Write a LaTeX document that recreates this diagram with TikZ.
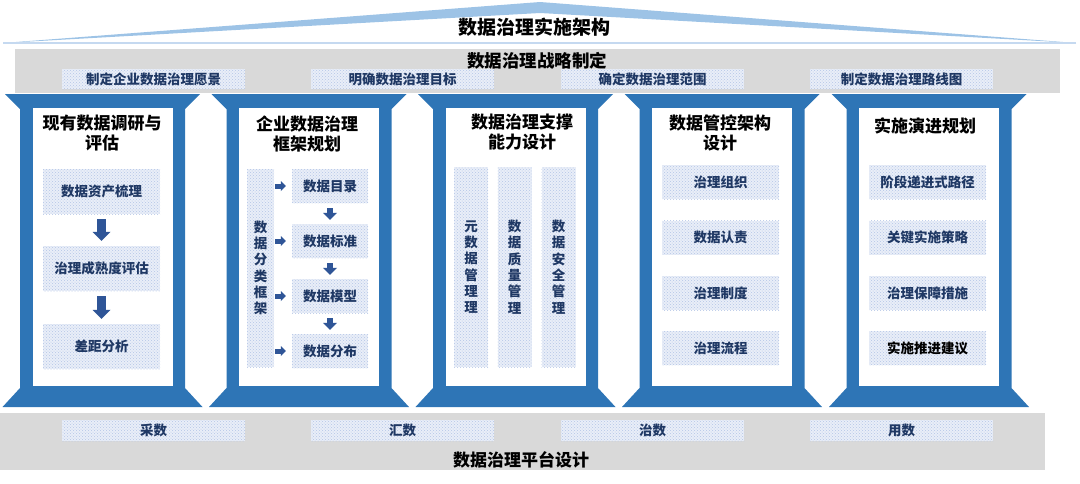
\documentclass[tikz,border=0pt]{standalone}
\usepackage{fontspec}
\setmainfont{Noto Sans CJK SC}
\usepackage{xcolor}
\usepackage{tikz}
\usetikzlibrary{positioning, arrows.meta, patterns}

\definecolor{pillarblue}{HTML}{2E75B6}
\definecolor{roofblue}{HTML}{9DC3E6}
\definecolor{roofline}{HTML}{C5D9F0}
\definecolor{bandgray}{HTML}{D9D9D9}
\definecolor{boxbg}{HTML}{E9EEF8}
\definecolor{boxdot}{HTML}{B4C5E6}
\definecolor{navy}{HTML}{1F3864}
\definecolor{arrowblue}{HTML}{2F5597}

\begin{document}
\begin{tikzpicture}[
    x=1pt, y=-1pt,
    maintitle/.style={font=\fontsize{19}{22}\selectfont\bfseries, inner sep=0pt},
    bandtitle/.style={font=\fontsize{17.5}{20}\selectfont\bfseries, inner sep=0pt},
    colhead/.style={font=\fontsize{17}{20}\selectfont\bfseries, align=center, inner sep=0pt},
    dotbox/.style={rectangle, inner sep=0pt, fill=boxbg, postaction={pattern=crosshatch dots, pattern color=boxdot},
        text=navy, font=\fontsize{13.5}{16.3}\selectfont\bfseries, align=center},
    wideitem/.style={dotbox, minimum width=117pt, minimum height=34pt},
    bandbox/.style={dotbox, minimum width=183pt, minimum height=20pt},
    bigarrow/.style={draw=arrowblue, line width=9pt, -{Triangle[width=18pt, length=9pt, line width=0pt]}, shorten <=5pt, shorten >=5pt},
    downarrow/.style={draw=arrowblue, line width=6pt, -{Triangle[width=14pt, length=7pt, line width=0pt]}, shorten <=5pt, shorten >=4pt},
    rightarrow/.style={draw=arrowblue, line width=5pt, -{Triangle[width=10pt, length=5pt, line width=0pt]}, shorten <=1pt, shorten >=6pt}
]
    \useasboundingbox (0,0) rectangle (1080,483);

    % Roof
    \fill[roofblue] (3,43) -- (540,2) -- (1076,43) -- (540,13) -- cycle;
    \draw[roofline, line width=1.2pt] (3,43) -- (1076,43);
    \node[maintitle] (title) at (534,27) {数据治理实施架构};

    % Strategy band
    \fill[bandgray] (15,49) rectangle (1060,93);
    \node[bandtitle] (strategy) at (537,61) {数据治理战略制定};
    \node[bandbox] (s1) at (153.5,79) {制定企业数据治理愿景};
    \node[bandbox] (s2) at (402.5,79) {明确数据治理目标};
    \node[bandbox] (s3) at (652.5,79) {确定数据治理范围};
    \node[bandbox] (s4) at (901.5,79) {制定数据治理路线图};

    % Pillars
    \foreach \cx in {102.5, 309, 515.5, 722, 929} {
        \fill[pillarblue] ({\cx-97.5},94) -- ({\cx+97.5},94) -- ({\cx+82.5},109) -- ({\cx+82.5},388)
            -- ({\cx+100},407) -- ({\cx-100},407) -- ({\cx-82.5},388) -- ({\cx-82.5},109) -- cycle;
        \fill[white] ({\cx-70},108) rectangle ({\cx+70},386);
    }

    % Platform band
    \fill[bandgray] (0,413) rectangle (1045,470);
    \node[bandbox, minimum height=21pt] (u1) at (153.5,430.5) {采数};
    \node[bandbox, minimum height=21pt] (u2) at (402.5,430.5) {汇数};
    \node[bandbox, minimum height=21pt] (u3) at (652.5,430.5) {治数};
    \node[bandbox, minimum height=21pt] (u4) at (901.5,430.5) {用数};
    \node[bandtitle, font=\fontsize{17}{20}\selectfont\bfseries] (platform) at (521,460) {数据治理平台设计};

    % Column 1
    \node[colhead] (t1) at (102,133.5) {现有数据调研与\\评估};
    \node[wideitem, minimum height=45pt] (a1) at (101.5,191.5) {数据资产梳理};
    \node[wideitem, minimum height=45pt] (a2) at (101.5,268.5) {治理成熟度评估};
    \node[wideitem, minimum height=45pt] (a3) at (101.5,346.5) {差距分析};
    \draw[bigarrow] (a1) -- (a2);
    \draw[bigarrow] (a2) -- (a3);

    % Column 2
    \node[colhead] (t2) at (307,133.5) {企业数据治理\\框架规划};
    \node[dotbox, minimum width=27pt, minimum height=198pt] (k0) at (260.5,268) {数\\据\\分\\类\\框\\架};
    \node[dotbox, minimum width=76pt, minimum height=34pt] (k1) at (330,186) {数据目录};
    \node[dotbox, minimum width=76pt, minimum height=34pt] (k2) at (330,241) {数据标准};
    \node[dotbox, minimum width=76pt, minimum height=34pt] (k3) at (330,296) {数据模型};
    \node[dotbox, minimum width=76pt, minimum height=34pt] (k4) at (330,351) {数据分布};
    \draw[downarrow] (k1) -- (k2);
    \draw[downarrow] (k2) -- (k3);
    \draw[downarrow] (k3) -- (k4);
    \foreach \k in {k1, k2, k3, k4}
        \draw[rightarrow] (k0.east |- \k.west) -- (\k.west);

    % Column 3
    \node[colhead] (t3) at (522,132.5) {数据治理支撑\\能力设计};
    \node[dotbox, minimum width=34pt, minimum height=200pt] (m1) at (471,267) {元\\数\\据\\管\\理\\理};
    \node[dotbox, minimum width=34pt, minimum height=200pt] (m2) at (514.5,267) {数\\据\\质\\量\\管\\理};
    \node[dotbox, minimum width=34pt, minimum height=200pt] (m3) at (558.5,267) {数\\据\\安\\全\\管\\理};

    % Column 4
    \node[colhead] (t4) at (720,132.5) {数据管控架构\\设计};
    \node[wideitem] (g1) at (720.5,182) {治理组织};
    \node[wideitem] (g2) at (720.5,237.5) {数据认责};
    \node[wideitem] (g3) at (720.5,293) {治理制度};
    \node[wideitem] (g4) at (720.5,348) {治理流程};

    % Column 5
    \node[colhead] (t5) at (925,125.5) {实施演进规划};
    \node[wideitem] (p1) at (927.5,182) {阶段递进式路径};
    \node[wideitem] (p2) at (927.5,237.5) {关键实施策略};
    \node[wideitem] (p3) at (927.5,293) {治理保障措施};
    \node[wideitem, text=black] (p4) at (927.5,348) {实施推进建议};

\end{tikzpicture}
\end{document}
